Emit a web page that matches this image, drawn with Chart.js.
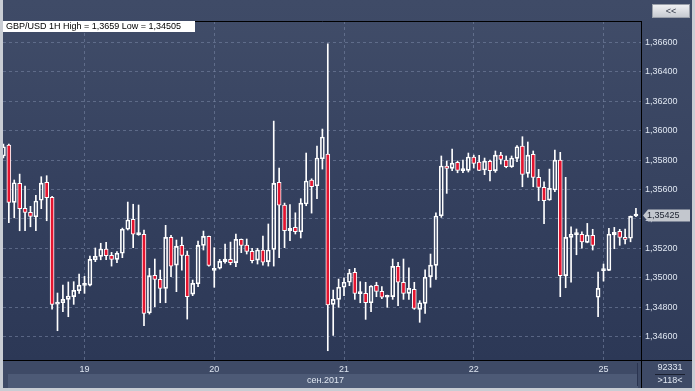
<!DOCTYPE html>
<html>
<head>
<meta charset="utf-8">
<script src="https://cdn.jsdelivr.net/npm/chart.js@4.4.0/dist/chart.umd.min.js"></script>
<style>
  html, body { margin: 0; padding: 0; background: #c9cdd4; }
  canvas { display: block; }
</style>
</head>
<body>
<canvas id="chart" width="695" height="391"></canvas>
<script>
// GBP/USD 1H - dane świec (open / high / low / close)
const opens = [1.35828,1.35902,1.35513,1.35642,1.35472,1.35445,1.35415,1.35527,1.35649,1.35547,
  1.34822,1.34831,1.34854,1.34872,1.34913,1.34949,1.34951,1.35123,1.35146,1.35196,
  1.35153,1.35126,1.35167,1.35330,1.35398,1.35294,1.35296,1.34763,1.35017,1.34990,
  1.34929,1.35275,1.35087,1.35221,1.35155,1.34890,1.34960,1.35221,1.35282,1.35051,
  1.35065,1.35110,1.35126,1.35103,1.35262,1.35223,1.35180,1.35121,1.35189,1.35110,
  1.35194,1.35649,1.35495,1.35320,1.35343,1.35313,1.35502,1.35665,1.35626,1.35809,
  1.35841,1.34820,1.34854,1.34936,1.34970,1.35038,1.34893,1.34895,1.34831,1.34949,
  1.34908,1.34868,1.34872,1.35078,1.34970,1.34895,1.34922,1.34786,1.34827,1.35008,
  1.35085,1.35422,1.35760,1.35744,1.35785,1.35728,1.35730,1.35821,1.35787,1.35733,
  1.35792,1.35728,1.35834,1.35800,1.35755,1.35812,1.35896,1.35710,1.35839,1.35683,
  1.35615,1.35529,1.35597,1.35800,1.35015,1.35275,1.35294,1.35296,1.35241,1.35289,
  1.34868,1.35049,1.35051,1.35291,1.35316,1.35275,1.35269,1.35420];
const highs = [1.35909,1.35909,1.35665,1.35705,1.35624,1.35486,1.35561,1.35687,1.35694,1.35554,
  1.34897,1.34951,1.34972,1.34974,1.35026,1.35010,1.35148,1.35203,1.35235,1.35241,
  1.35173,1.35178,1.35338,1.35515,1.35500,1.35495,1.35325,1.35065,1.35128,1.35053,
  1.35357,1.35289,1.35257,1.35277,1.35182,1.34985,1.35250,1.35318,1.35284,1.35205,
  1.35126,1.35230,1.35243,1.35298,1.35264,1.35264,1.35201,1.35201,1.35284,1.35366,
  1.36065,1.35746,1.35508,1.35497,1.35442,1.35538,1.35848,1.35673,1.35896,1.36011,
  1.36590,1.34917,1.34992,1.35001,1.35058,1.35065,1.34974,1.34970,1.34948,1.34970,
  1.34940,1.34883,1.35128,1.35106,1.35128,1.35069,1.34970,1.34845,1.35055,1.35162,
  1.35442,1.35828,1.35794,1.35875,1.35794,1.35800,1.35848,1.35834,1.35832,1.35814,
  1.35800,1.35862,1.35853,1.35828,1.35828,1.35898,1.35959,1.35923,1.35862,1.35737,
  1.35653,1.35739,1.35868,1.35853,1.35683,1.35347,1.35332,1.35313,1.35370,1.35330,
  1.35040,1.35094,1.35337,1.35343,1.35330,1.35332,1.35420,1.35472];
const lows = [1.35814,1.35375,1.35408,1.35320,1.35320,1.35347,1.35320,1.35470,1.35388,1.34788,
  1.34641,1.34770,1.34736,1.34820,1.34895,1.34895,1.34945,1.35110,1.35123,1.35123,
  1.35080,1.35103,1.35137,1.35325,1.35205,1.35289,1.34675,1.34754,1.34804,1.34831,
  1.34831,1.35008,1.34906,1.35053,1.34720,1.34879,1.34940,1.35189,1.35080,1.34936,
  1.35060,1.35099,1.35089,1.35076,1.35171,1.35162,1.35101,1.35094,1.35087,1.35080,
  1.35080,1.35137,1.35205,1.35252,1.35298,1.35271,1.35490,1.35440,1.35538,1.35739,
  1.34505,1.34609,1.34800,1.34879,1.34947,1.34854,1.34831,1.34718,1.34770,1.34872,
  1.34858,1.34800,1.34854,1.34811,1.34854,1.34854,1.34786,1.34698,1.34759,1.34936,
  1.34990,1.35411,1.35574,1.35728,1.35714,1.35714,1.35719,1.35746,1.35728,1.35701,
  1.35658,1.35717,1.35773,1.35748,1.35750,1.35789,1.35619,1.35683,1.35619,1.35524,
  1.35368,1.35527,1.35585,1.34872,1.34933,1.34970,1.35157,1.35201,1.35238,1.35189,
  1.34736,1.34978,1.35049,1.35198,1.35221,1.35230,1.35245,1.35415];
const closes = [1.35891,1.35513,1.35646,1.35470,1.35445,1.35418,1.35522,1.35644,1.35544,1.34820,
  1.34829,1.34854,1.34877,1.34915,1.34951,1.34953,1.35126,1.35146,1.35196,1.35150,
  1.35126,1.35167,1.35330,1.35393,1.35296,1.35298,1.34759,1.35015,1.34990,1.34929,
  1.35275,1.35080,1.35214,1.35153,1.34872,1.34963,1.35221,1.35282,1.35085,1.35055,
  1.35112,1.35128,1.35103,1.35262,1.35221,1.35180,1.35116,1.35189,1.35106,1.35189,
  1.35642,1.35493,1.35320,1.35337,1.35313,1.35508,1.35658,1.35619,1.35814,1.35957,
  1.34817,1.34854,1.34936,1.34970,1.35033,1.34895,1.34897,1.34831,1.34945,1.34908,
  1.34868,1.34872,1.35078,1.34970,1.34895,1.34929,1.34793,1.34831,1.35004,1.35087,
  1.35420,1.35760,1.35744,1.35780,1.35730,1.35733,1.35821,1.35778,1.35730,1.35792,
  1.35728,1.35834,1.35805,1.35755,1.35814,1.35891,1.35703,1.35834,1.35683,1.35615,
  1.35524,1.35608,1.35800,1.35015,1.35275,1.35296,1.35298,1.35245,1.35291,1.35221,
  1.34929,1.35053,1.35296,1.35309,1.35275,1.35262,1.35418,1.35425];

// oś X: indeksy świec na początku dnia i etykiety
const dayTicks = [15, 39, 63, 87, 111];
const dayLabels = ['19', '20', '21', '22', '25'];
// oś Y: poziomy cen
const priceTicks = [1.346, 1.348, 1.350, 1.352, 1.354, 1.356, 1.358, 1.360, 1.362, 1.364, 1.366];

const title = 'GBP/USD 1H High = 1,3659 Low = 1,34505';
const monthLabel = 'сен.2017';
const counterLabel = '92331';

const RED = '#e5142f';
const WHITE = '#ffffff';
const FONT = "'Liberation Sans', Arial, sans-serif";
const LABEL_COLOR = '#dfe6f1';
const GRID_COLOR = 'rgba(118,132,162,0.6)';

function fmt(v, d) {
    return v.toFixed(d).replace('.', ',');
}

// budowanie danych dla słupków
const idx = opens.map((_, i) => i);
const bodies = idx.map(i => ({ x: i, y: [opens[i], closes[i]] }));
const upperWicks = idx.map(i => ({ x: i, y: [Math.max(opens[i], closes[i]), highs[i]] }));
const lowerWicks = idx.map(i => ({ x: i, y: [lows[i], Math.min(opens[i], closes[i])] }));
const bodyColors = idx.map(i => closes[i] < opens[i] ? RED : 'rgba(0,0,0,0)');

// tło, ramki i napisy
const decor = {
    id: 'decor',
    beforeDraw(chart) {
        const ctx = chart.ctx;
        const a = chart.chartArea;
        ctx.save();
        ctx.fillStyle = '#c9cdd4';
        ctx.fillRect(0, 0, 695, 391);
        const g = ctx.createLinearGradient(0, 0, 0, 388);
        g.addColorStop(0, '#3f4b67');
        g.addColorStop(1, '#2e3a58');
        ctx.fillStyle = g;
        ctx.fillRect(3, 0, 689, 388);
        const pg = ctx.createLinearGradient(0, a.top, 0, a.bottom);
        pg.addColorStop(0, '#404c68');
        pg.addColorStop(0.5, '#34405e');
        pg.addColorStop(1, '#2c3856');
        ctx.fillStyle = pg;
        ctx.fillRect(a.left, a.top, a.right - a.left, a.bottom - a.top);
        // pasek osi X
        ctx.fillStyle = '#3e4a66';
        ctx.fillRect(3, a.bottom, 689, 28);
        ctx.fillStyle = '#4d5a76';
        ctx.fillRect(8, 374, 630, 14);
        ctx.restore();
    },
    afterDraw(chart) {
        const ctx = chart.ctx;
        const a = chart.chartArea;
        const y = chart.scales.y;
        ctx.save();
        // czarne linie ramki
        ctx.strokeStyle = '#000000';
        ctx.lineWidth = 1;
        ctx.beginPath();
        ctx.moveTo(a.left, a.top + 0.5); ctx.lineTo(a.right, a.top + 0.5);
        ctx.moveTo(a.right - 0.5, a.top); ctx.lineTo(a.right - 0.5, 388);
        ctx.moveTo(3, a.bottom + 0.5); ctx.lineTo(692, a.bottom + 0.5);
        ctx.stroke();
        ctx.strokeStyle = '#2a3450';
        ctx.beginPath();
        ctx.moveTo(637.5, 363); ctx.lineTo(637.5, 386);
        ctx.stroke();

        // tytuł
        ctx.fillStyle = WHITE;
        ctx.fillRect(3, 21, 192, 11);
        ctx.fillStyle = '#000000';
        ctx.font = '9px ' + FONT;
        ctx.textBaseline = 'middle';
        ctx.textAlign = 'left';
        ctx.fillText(title, 6, 26.5);

        // przycisk <<
        const bg = ctx.createLinearGradient(0, 4, 0, 18);
        bg.addColorStop(0, '#f2f3f5');
        bg.addColorStop(1, '#c3c7ce');
        ctx.fillStyle = bg;
        ctx.fillRect(652, 4, 38, 14);
        ctx.strokeStyle = '#9aa0aa';
        ctx.strokeRect(652.5, 4.5, 37, 13);
        ctx.fillStyle = '#333a48';
        ctx.textAlign = 'center';
        ctx.font = '9px ' + FONT;
        ctx.fillText('<<', 671, 11.5);

        // etykieta ostatniej ceny
        const last = closes[closes.length - 1];
        const py = Math.round(y.getPixelForValue(last)) + 0.5;
        ctx.fillStyle = '#c3c7ce';
        ctx.beginPath();
        ctx.moveTo(643, py);
        ctx.lineTo(648, py - 6);
        ctx.lineTo(690, py - 6);
        ctx.lineTo(690, py + 6);
        ctx.lineTo(648, py + 6);
        ctx.closePath();
        ctx.fill();
        ctx.fillStyle = '#1c2230';
        ctx.textAlign = 'left';
        ctx.font = '9px ' + FONT;
        ctx.fillText(fmt(last, 5), 647, py);

        // napisy na dole
        ctx.fillStyle = LABEL_COLOR;
        ctx.textAlign = 'right';
        ctx.fillText(monthLabel, 344, 381);
        ctx.textAlign = 'center';
        ctx.fillText(counterLabel, 670, 367.5);
        ctx.fillText('>' + opens.length + '<', 670, 381);
        ctx.strokeStyle = '#1a2030';
        ctx.beginPath();
        ctx.moveTo(655, 374.5); ctx.lineTo(685, 374.5);
        ctx.stroke();
        ctx.restore();
    }
};

const ctx = document.getElementById('chart').getContext('2d');
new Chart(ctx, {
    type: 'bar',
    data: {
        datasets: [
            { data: lowerWicks, backgroundColor: WHITE, barThickness: 1, grouped: false, order: 3 },
            { data: upperWicks, backgroundColor: WHITE, barThickness: 1, grouped: false, order: 2 },
            { data: bodies, backgroundColor: bodyColors, borderColor: WHITE, borderWidth: 1,
              borderSkipped: false, barThickness: 4, minBarLength: 2, grouped: false, order: 1 }
        ]
    },
    options: {
        responsive: false,
        animation: false,
        events: [],
        layout: { padding: { left: 3, top: 21, right: 0, bottom: 0 } },
        plugins: { legend: { display: false }, tooltip: { enabled: false } },
        scales: {
            x: {
                type: 'linear',
                min: -0.08,
                max: 118.12,
                offset: false,
                afterBuildTicks: s => { s.ticks = dayTicks.map(v => ({ value: v })); },
                afterFit: s => { s.height = 31; },
                ticks: {
                    autoSkip: false,
                    maxRotation: 0,
                    padding: 4,
                    color: LABEL_COLOR,
                    font: { size: 9, family: FONT },
                    callback: (v, i) => dayLabels[i]
                },
                grid: { color: GRID_COLOR, drawTicks: false, offset: false },
                border: { display: false, dash: [3, 3] }
            },
            y: {
                position: 'right',
                min: 1.34442,
                max: 1.36745,
                afterBuildTicks: s => { s.ticks = priceTicks.map(v => ({ value: v })); },
                afterFit: s => { s.width = 53; },
                ticks: {
                    padding: 3,
                    color: LABEL_COLOR,
                    font: { size: 9, family: FONT },
                    callback: v => fmt(v, 5)
                },
                grid: { color: GRID_COLOR, drawTicks: false },
                border: { display: false, dash: [3, 3] }
            }
        }
    },
    plugins: [decor]
});
</script>
</body>
</html>
